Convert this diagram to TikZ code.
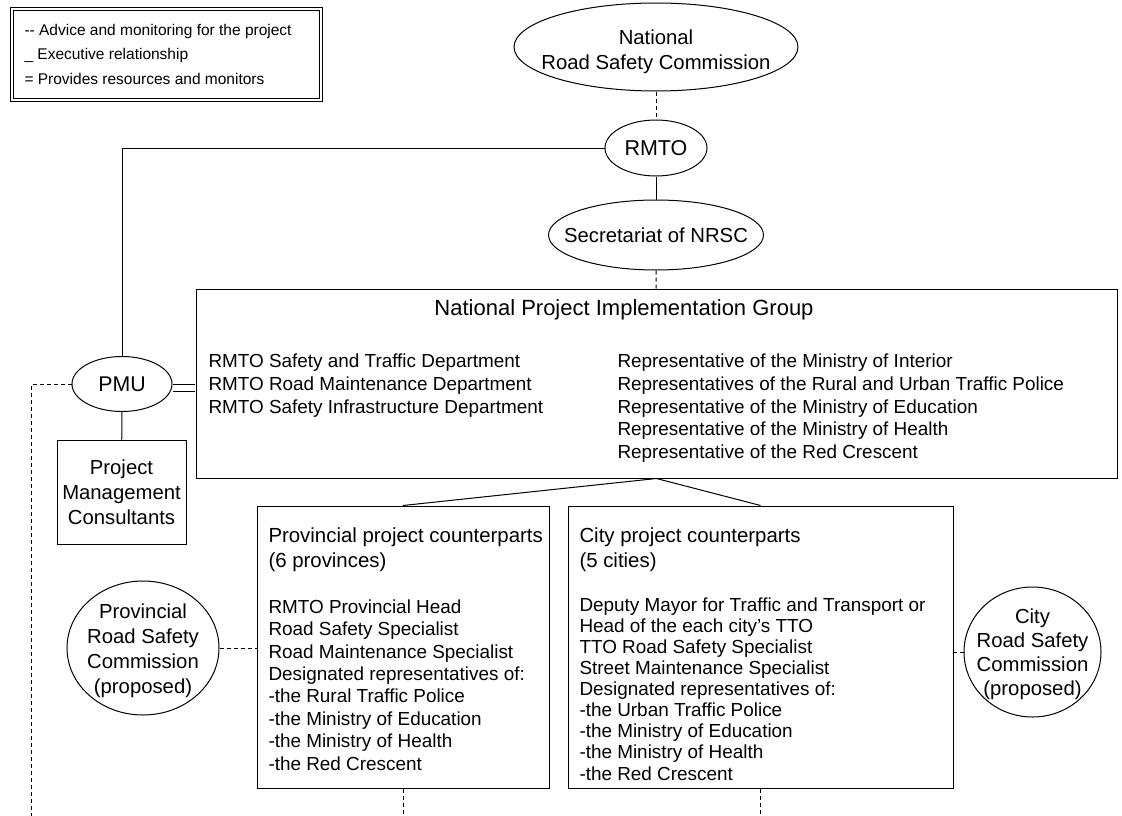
\documentclass[tikz,border=0pt]{standalone}
\usepackage{fontspec}
\setmainfont{Liberation Sans}
\usetikzlibrary{shapes.geometric, positioning}

\begin{document}
\begin{tikzpicture}[x=1pt, y=-1pt, line width=1pt,
    every node/.style={inner sep=0pt, font=\fontsize{20.3}{25}\selectfont},
    oval/.style={ellipse, draw},
    box/.style={rectangle, draw},
    lines/.style={align=left, anchor=north west},
    body/.style={font=\fontsize{18.9}{#1}\selectfont},
    head/.style={font=\fontsize{20.4}{24.5}\selectfont},
    adv/.style={dash pattern=on 4pt off 3pt},
    res/.style={double, double distance=6pt}]
\useasboundingbox (0,0) rectangle (1122,816);
\node[box, double, double distance=2pt, minimum width=309pt, minimum height=91pt] (legend) at (166.5,54.5) {};
\node[lines, font=\fontsize{15.5}{24.5}\selectfont] (key) at (24,23.5) {-{}- Advice and monitoring for the project\\\_ Executive relationship\\= Provides resources and monitors};
\node[oval, minimum width=284pt, minimum height=88pt, label={[align=center, yshift=-5pt]center:National\\Road Safety Commission}] (nrsc) at (656,47) {};
\node[oval, minimum width=102pt, minimum height=56pt, label={[font=\fontsize{21.5}{25}\selectfont]center:RMTO}] (rmto) at (656,148) {};
\node[oval, minimum width=215pt, minimum height=70pt, label=center:Secretariat of NRSC] (sec) at (656,235) {};
\node[box, minimum width=921pt, minimum height=189pt] (npig) at (656.5,383.5) {};
\node[font=\fontsize{22}{25}\selectfont] (npigtitle) at (624,310) {National Project Implementation Group};
\node[lines, body=22.7] (rmtodeps) at (208,353.5) {RMTO Safety and Traffic Department\\RMTO Road Maintenance Department\\RMTO Safety Infrastructure Department};
\node[lines, body=22.7] (members) at (617,353.5) {Representative of the Ministry of Interior\\Representatives of the Rural and Urban Traffic Police\\Representative of the Ministry of Education\\Representative of the Ministry of Health\\Representative of the Red Crescent};
\node[oval, minimum width=100pt, minimum height=55pt, label={[font=\fontsize{21.3}{25}\selectfont]center:PMU}] (pmu) at (122,384) {};
\node[box, minimum width=129pt, minimum height=104pt, align=center] (pmc) at (121.5,492) {Project\\Management\\Consultants};
\node[box, minimum width=292pt, minimum height=282pt] (prov) at (403,647) {};
\node[lines, head] (provhead) at (268,527.5) {Provincial project counterparts\\(6 provinces)};
\node[lines, body=22.4] (provtext) at (268,599) {RMTO Provincial Head\\Road Safety Specialist\\Road Maintenance Specialist\\Designated representatives of:\\-the Rural Traffic Police\\-the Ministry of Education\\-the Ministry of Health\\-the Red Crescent};
\node[box, minimum width=385pt, minimum height=282pt] (city) at (760.5,647) {};
\node[lines, head] (cityhead) at (579,527.5) {City project counterparts\\(5 cities)};
\node[lines, body=21.1] (citytext) at (579,597) {Deputy Mayor for Traffic and Transport or\\Head of the each city's TTO\\TTO Road Safety Specialist\\Street Maintenance Specialist\\Designated representatives of:\\-the Urban Traffic Police\\-the Ministry of Education\\-the Ministry of Health\\-the Red Crescent};
\node[oval, minimum width=152pt, minimum height=134pt, label={[align=center, yshift=-3pt]center:Provincial\\Road Safety\\Commission\\(proposed)}] (prsc) at (143,648) {};
\node[oval, minimum width=137pt, minimum height=130pt, label={[align=center, yshift=-2pt, font=\fontsize{20.3}{24}\selectfont]center:City\\Road Safety\\Commission\\(proposed)}] (crsc) at (1032.5,652) {};
\coordinate (lfoot) at (31,816);
\coordinate (pfoot) at (403,816);
\coordinate (cfoot) at (760.5,816);
\draw[adv] (nrsc) -- (rmto);
\draw (rmto) -- (sec);
\draw[adv] (sec) -- (npig);
\draw (rmto.west) -| (pmu.north);
\draw[res] ([yshift=-4pt]pmu.east) -- ([yshift=-4pt, xshift=-0.5pt]pmu.east -| npig.west);
\draw (pmu) -- (pmc);
\draw[adv] (pmu.west) -| (lfoot);
\draw (npig.south) -- (prov.north);
\draw (npig.south) -- (city.north);
\draw[adv] (prsc.east) -- (prsc.east -| prov.west);
\draw[adv] (crsc.west) -- (crsc.west -| city.east);
\draw[adv] (prov) -- (pfoot);
\draw[adv] (city) -- (cfoot);
\end{tikzpicture}
\end{document}
